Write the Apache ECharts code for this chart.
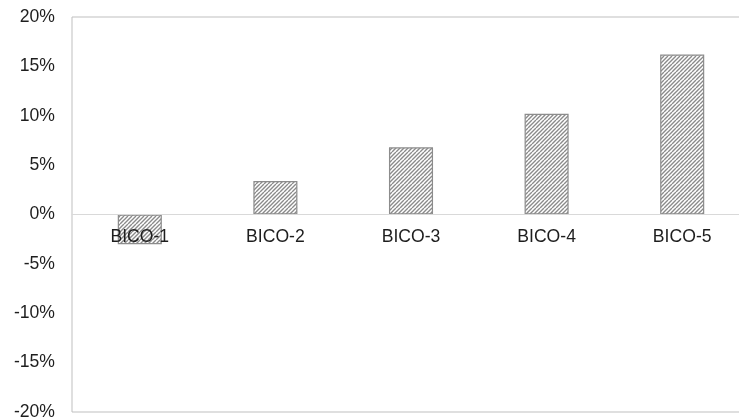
<!DOCTYPE html>
<html>
<head>
<meta charset="utf-8">
<script src="https://cdn.jsdelivr.net/npm/echarts@6/dist/echarts.min.js"></script>
<style>
html,body{margin:0;padding:0;background:#fff;}
#c{width:739px;height:417px;}
</style>
</head>
<body>
<div id="c"></div>
<script>
var categories = ['BICO-1', 'BICO-2', 'BICO-3', 'BICO-4', 'BICO-5'];
var values = [-3.0, 3.4, 6.8, 10.2, 16.2];
var yTicks = { min: -20, max: 20, interval: 5 };

function hatch() {
  var c = document.createElement('canvas');
  c.width = 8; c.height = 8;
  var g = c.getContext('2d');
  g.fillStyle = '#ffffff';
  g.fillRect(0, 0, 8, 8);
  g.strokeStyle = '#8a8a8a';
  g.lineWidth = 1.4;
  g.beginPath();
  for (var i = -8; i <= 16; i += 4) {
    g.moveTo(i, 8);
    g.lineTo(i + 8, 0);
  }
  g.stroke();
  return c;
}

var font = 'Liberation Sans, Arial, sans-serif';
var gridTop = 17, gridBottom = 5, H = 417;
var plotH = H - gridTop - gridBottom;
var zeroFromBottom = plotH * (0 - yTicks.min) / (yTicks.max - yTicks.min);

var chart = echarts.init(document.getElementById('c'), null, { renderer: 'canvas' });
chart.setOption({
  animation: false,
  grid: { left: 72, right: -11, top: gridTop, bottom: gridBottom, outerBoundsMode: 'none', containLabel: false, show: true, borderColor: '#bfbfbf', borderWidth: 1, backgroundColor: 'transparent' },
  xAxis: {
    type: 'category',
    data: categories,
    position: 'bottom',
    offset: -zeroFromBottom,
    axisLine: { show: true, onZero: false, lineStyle: { color: '#d9d9d9', width: 1 } },
    axisTick: { show: false },
    axisLabel: { color: '#1e1e1e', fontSize: 17.6, fontFamily: font, margin: 14 },
    z: 1
  },
  yAxis: {
    type: 'value',
    min: yTicks.min, max: yTicks.max, interval: yTicks.interval,
    axisLine: { show: false },
    axisTick: { show: false },
    splitLine: { show: false },
    axisLabel: { color: '#1e1e1e', fontSize: 17.6, fontFamily: font, margin: 17, formatter: '{value}%' }
  },
  series: [{
    type: 'bar',
    data: values,
    barCategoryGap: '67.5%',
    z: 0,
    itemStyle: { color: { image: hatch(), repeat: 'repeat' }, borderColor: '#8c8c8c', borderWidth: 1.2 }
  }]
});
</script>
</body>
</html>
